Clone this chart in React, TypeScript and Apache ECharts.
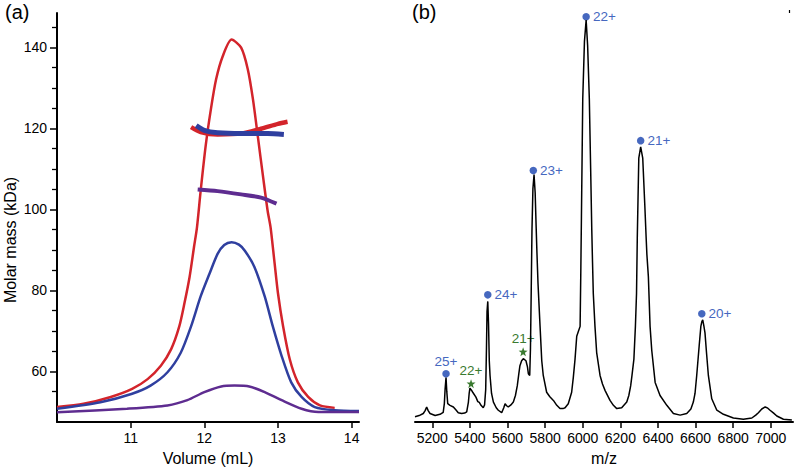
import React, { useEffect, useRef } from "react";
import * as echarts from "echarts";

// ---------- Panel (a): SEC-MALS ----------
const volumeTicks = [11, 12, 13, 14];
const massTicks = [60, 80, 100, 120, 140];
const massMinorTicks = [55, 65, 70, 75, 85, 90, 95, 105, 110, 115, 125, 130, 135, 145];

const redTraceVolume = [10.0, 10.36, 10.73, 11.02, 11.23, 11.41, 11.55, 11.66, 11.73, 11.8, 11.86, 11.9, 11.95, 12.02, 12.09, 12.16, 12.25, 12.37, 12.5, 12.59, 12.66, 12.73, 12.8, 12.86, 12.9, 12.95, 13.0, 13.07, 13.16, 13.27, 13.41, 13.57, 13.77];
const redTraceValue = [51.2, 52.0, 53.7, 55.7, 58.1, 61.4, 65.5, 71.1, 76.8, 83.3, 90.7, 95.5, 104.5, 115.9, 124.8, 132.1, 137.8, 141.9, 139.9, 134.6, 127.2, 117.5, 107.7, 99.6, 95.5, 87.4, 79.3, 71.1, 63.0, 57.3, 53.7, 51.6, 51.0];

const blueTraceVolume = [10.0, 10.59, 11.02, 11.27, 11.5, 11.68, 11.82, 11.95, 12.07, 12.18, 12.27, 12.37, 12.47, 12.55, 12.68, 12.82, 12.93, 13.05, 13.18, 13.32, 13.5, 13.77, 14.1];
const blueTraceValue = [50.8, 52.4, 54.5, 56.5, 59.8, 64.6, 71.1, 78.5, 84.1, 89.0, 91.2, 91.9, 91.3, 89.8, 85.8, 78.5, 71.1, 63.8, 57.3, 53.7, 51.2, 50.4, 50.2];

const purpleTraceVolume = [10.0, 10.95, 11.5, 11.77, 12.0, 12.23, 12.41, 12.61, 12.82, 13.05, 13.32, 13.55, 14.1];
const purpleTraceValue = [49.9, 50.8, 51.6, 52.9, 54.9, 56.3, 56.5, 56.3, 54.9, 52.9, 50.8, 50.0, 50.0];

const redMassVolume = [11.82, 11.95, 12.18, 12.5, 12.77, 13.0, 13.13];
const redMassValue = [120.3, 119.1, 118.5, 118.7, 119.9, 121.1, 121.6];
const blueMassVolume = [11.89, 12.0, 12.18, 12.5, 12.86, 13.08];
const blueMassValue = [120.7, 119.5, 118.9, 118.7, 118.7, 118.5];
const purpleMassVolume = [11.91, 12.18, 12.5, 12.77, 12.98];
const purpleMassValue = [104.9, 104.5, 103.7, 102.9, 101.4];

// ---------- Panel (b): native MS ----------
const mzTicks = [5200, 5400, 5600, 5800, 6000, 6200, 6400, 6600, 6800, 7000];
const spectrumMz = [5108, 5130, 5152, 5162, 5170, 5178, 5188, 5215, 5241, 5258, 5264, 5268, 5273, 5277, 5282, 5294, 5312, 5325, 5338, 5356, 5372, 5383, 5392, 5396, 5400, 5408, 5415, 5432, 5442, 5450, 5459, 5471, 5478, 5484, 5488, 5491, 5495, 5499, 5503, 5507, 5515, 5525, 5540, 5551, 5569, 5580, 5587, 5595, 5604, 5618, 5631, 5642, 5652, 5660, 5666, 5675, 5684, 5698, 5706, 5711, 5718, 5722, 5726, 5730, 5735, 5741, 5747, 5752, 5756, 5762, 5773, 5782, 5790, 5808, 5825, 5844, 5862, 5879, 5895, 5906, 5923, 5941, 5950, 5959, 5968, 5977, 5986, 5990, 5993, 6000, 6009, 6018, 6026, 6035, 6042, 6048, 6052, 6056, 6065, 6074, 6092, 6105, 6119, 6145, 6163, 6181, 6207, 6234, 6245, 6255, 6262, 6272, 6280, 6286, 6290, 6298, 6308, 6319, 6330, 6337, 6341, 6349, 6358, 6367, 6385, 6411, 6447, 6482, 6518, 6553, 6575, 6588, 6597, 6606, 6619, 6628, 6633, 6638, 6644, 6650, 6658, 6668, 6686, 6713, 6748, 6801, 6854, 6899, 6920, 6934, 6952, 6970, 6984, 6996, 7015, 7032, 7067, 7112];
const spectrumIntensity = [1.3, 1.6, 2.1, 2.8, 3.7, 2.8, 2.1, 1.6, 1.9, 2.4, 4.5, 8.0, 10.9, 7.5, 4.5, 4.1, 3.7, 3.0, 2.3, 2.1, 2.2, 2.5, 4.9, 7.0, 8.3, 7.8, 7.3, 6.1, 5.0, 4.8, 4.1, 3.5, 4.2, 8.0, 18.0, 27.0, 29.5, 24.0, 15.0, 11.4, 7.0, 4.9, 3.5, 2.9, 2.3, 3.5, 4.5, 4.0, 3.7, 4.2, 4.9, 6.5, 8.9, 11.8, 13.8, 15.0, 15.5, 15.0, 13.5, 11.8, 11.4, 18.0, 32.0, 47.0, 57.0, 60.5, 56.0, 48.0, 42.0, 34.0, 23.4, 15.0, 11.4, 7.3, 6.2, 5.3, 4.1, 3.3, 3.3, 3.5, 4.5, 7.3, 11.0, 15.4, 21.0, 22.2, 23.4, 38.0, 50.0, 79.0, 93.0, 98.3, 92.0, 79.0, 62.0, 47.0, 39.0, 31.5, 23.4, 17.0, 11.4, 9.3, 7.7, 5.3, 4.1, 3.3, 3.5, 4.9, 6.5, 8.9, 11.5, 15.4, 23.4, 31.5, 45.0, 64.5, 67.3, 64.5, 53.0, 45.2, 41.0, 35.5, 23.4, 17.5, 9.7, 6.5, 4.1, 2.1, 1.7, 2.1, 3.2, 4.9, 7.0, 11.4, 18.6, 23.4, 24.5, 25.0, 23.5, 21.8, 17.0, 11.4, 5.7, 2.9, 1.9, 1.0, 0.7, 1.0, 1.7, 2.3, 3.2, 3.7, 3.4, 2.9, 2.2, 1.5, 0.7, 0.5];

const chargeLabels = ["25+", "24+", "23+", "22+", "21+", "20+"];
const chargeMz = [5273, 5495, 5737, 6018, 6308, 6633];
const chargeIntensity = [11.8, 31.1, 61.5, 99.1, 68.8, 26.5];

const starLabels = ["22+", "21+"];
const starMz = [5406, 5683];
const starIntensity = [9.4, 17.2];

const FONT = "'Liberation Sans', Arial, Helvetica, sans-serif";
const RED = "#d3242b";
const BLUE = "#2f3f9f";
const PURPLE = "#5e2c90";
const DOT_BLUE = "#4668bf";
const STAR_GREEN = "#3a7a30";

const zip = (a: number[], b: number[]) => a.map((v, i) => [v, b[i]]);
const STAR_PATH =
  "path://M0,-10L2.35,-3.24L9.51,-3.09L3.8,1.24L5.88,8.09L0,4L-5.88,8.09L-3.8,1.24L-9.51,-3.09L-2.35,-3.24Z";

export default function App() {
  const ref = useRef<HTMLDivElement>(null);

  useEffect(() => {
    document.body.style.margin = "0";
    if (!ref.current) return;
    const chart = echarts.init(ref.current, undefined, { renderer: "svg" });

    const axisLineStyle = { color: "#000", width: 2 };
    const labelStyle = {
      color: "#000",
      fontSize: 14,
      fontFamily: FONT,
      formatter: (v: number) => String(v),
    };

    const traceLine = (x: number[], y: number[], color: string, width: number) => ({
      type: "line",
      xAxisIndex: 0,
      yAxisIndex: 0,
      data: zip(x, y),
      symbol: "none",
      smooth: 0.25,
      lineStyle: { color, width },
      silent: true,
    });

    const option: any = {
      animation: false,
      grid: [
        { left: 57, top: 13, width: 302, height: 414 },
        { left: 415, top: 13, width: 378, height: 414 },
      ],
      xAxis: [
        {
          gridIndex: 0,
          type: "value",
          min: 10,
          max: 14.1,
          axisLine: { lineStyle: axisLineStyle },
          axisTick: { customValues: volumeTicks, length: 6, lineStyle: { color: "#000", width: 1.5 } },
          axisLabel: { customValues: volumeTicks, margin: 9, ...labelStyle },
          splitLine: { show: false },
          name: "Volume (mL)",
          nameLocation: "middle",
          nameGap: 25,
          nameTextStyle: { color: "#000", fontSize: 16, fontFamily: FONT },
        },
        {
          gridIndex: 1,
          type: "value",
          min: 5108,
          max: 7118,
          axisLine: { lineStyle: axisLineStyle },
          axisTick: { customValues: mzTicks, length: 6, lineStyle: { color: "#000", width: 1.5 } },
          axisLabel: { customValues: mzTicks, margin: 9, ...labelStyle },
          splitLine: { show: false },
          name: "m/z",
          nameLocation: "middle",
          nameGap: 25,
          nameTextStyle: { color: "#000", fontSize: 16, fontFamily: FONT },
        },
        {
          gridIndex: 1,
          type: "value",
          min: 5108,
          max: 7118,
          axisLine: { show: false },
          axisTick: { customValues: [7100], length: 3, lineStyle: { color: "#000", width: 1.2 } },
          axisLabel: { show: false },
          splitLine: { show: false },
        },
      ],
      yAxis: [
        {
          gridIndex: 0,
          type: "value",
          min: 47.49,
          max: 148.46,
          axisLine: { show: true, lineStyle: axisLineStyle },
          axisTick: { show: true, customValues: massTicks, length: 7, lineStyle: { color: "#000", width: 1.5 } },
          axisLabel: { customValues: massTicks, margin: 10, ...labelStyle },
          splitLine: { show: false },
        },
        {
          gridIndex: 0,
          type: "value",
          min: 47.49,
          max: 148.46,
          position: "left",
          offset: 0,
          axisLine: { show: false },
          axisTick: { show: true, customValues: massMinorTicks, length: 5, lineStyle: { color: "#000", width: 1.3 } },
          axisLabel: { show: false },
          splitLine: { show: false },
        },
        {
          gridIndex: 1,
          type: "value",
          min: 0,
          max: 100,
          show: false,
        },
      ],
      graphic: [
        {
          type: "text",
          left: 5,
          top: 2,
          style: { text: "(a)", fontSize: 20, fontFamily: FONT, fill: "#000" },
        },
        {
          type: "text",
          left: 412,
          top: 2,
          style: { text: "(b)", fontSize: 20, fontFamily: FONT, fill: "#000" },
        },
        {
          type: "text",
          x: 10,
          y: 240,
          rotation: Math.PI / 2,
          style: {
            text: "Molar mass (kDa)",
            fontSize: 16,
            fontFamily: FONT,
            fill: "#000",
            textAlign: "center",
            textVerticalAlign: "middle",
            align: "center",
            verticalAlign: "middle",
          },
        },
      ],
      series: [
        traceLine(redTraceVolume, redTraceValue, RED, 2.5),
        traceLine(blueTraceVolume, blueTraceValue, BLUE, 2.5),
        traceLine(purpleTraceVolume, purpleTraceValue, PURPLE, 2.5),
        traceLine(redMassVolume, redMassValue, RED, 4.5),
        traceLine(blueMassVolume, blueMassValue, BLUE, 5),
        traceLine(purpleMassVolume, purpleMassValue, PURPLE, 4),
        {
          type: "line",
          xAxisIndex: 1,
          yAxisIndex: 2,
          data: zip(spectrumMz, spectrumIntensity),
          symbol: "none",
          lineStyle: { color: "#000", width: 1.5 },
          silent: true,
        },
        {
          type: "scatter",
          xAxisIndex: 1,
          yAxisIndex: 2,
          symbol: "circle",
          symbolSize: 7.5,
          itemStyle: { color: DOT_BLUE, opacity: 1 },
          label: {
            show: true,
            position: "right",
            distance: 3,
            formatter: (p: any) => p.name,
            color: DOT_BLUE,
            fontSize: 13.5,
            fontFamily: FONT,
          },
          data: chargeLabels.map((name, i) => ({
            name,
            value: [chargeMz[i], chargeIntensity[i]],
            label: i === 0 ? { position: "top", distance: 2 } : undefined,
          })),
        },
        {
          type: "scatter",
          xAxisIndex: 1,
          yAxisIndex: 2,
          symbol: STAR_PATH,
          symbolSize: 9,
          itemStyle: { color: STAR_GREEN, opacity: 1 },
          label: {
            show: true,
            position: "top",
            distance: 2,
            formatter: (p: any) => p.name,
            color: STAR_GREEN,
            fontSize: 13.5,
            fontFamily: FONT,
          },
          data: starLabels.map((name, i) => ({
            name,
            value: [starMz[i], starIntensity[i]],
          })),
        },
      ],
    };

    chart.setOption(option);
    return () => chart.dispose();
  }, []);

  return (
    <div
      ref={ref}
      style={{ position: "fixed", left: 0, top: 0, width: 796, height: 471, background: "#fff" }}
    />
  );
}
